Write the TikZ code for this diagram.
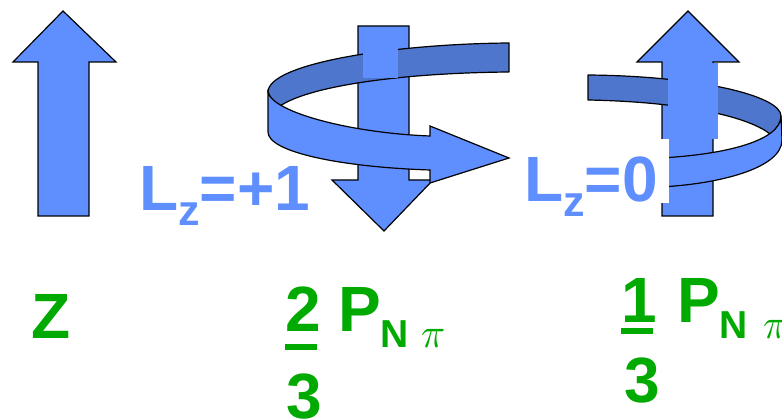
\documentclass[tikz,border=0pt]{standalone}
\usepackage{fontspec}
\usepackage{graphicx}
\setmainfont{Liberation Sans}
\definecolor{lb}{RGB}{95,143,255}
\definecolor{db}{RGB}{77,118,204}
\definecolor{gr}{RGB}{0,170,0}
\tikzset{
  arrowshape/.style={fill=lb,draw=black,line width=1.2pt,line join=miter},
  backband/.style={fill=db,draw=black,line width=1.2pt,line join=round},
  frontband/.style={fill=lb,draw=black,line width=1.2pt,line join=miter},
  patch/.style={fill=lb,draw=none},
  bigtxt/.style={inner sep=0pt,anchor=base west,font=\fontsize{64}{64}\selectfont\bfseries},
  subtxt/.style={inner sep=0pt,anchor=base west,font=\fontsize{39}{39}\selectfont\bfseries},
  pitxt/.style={inner sep=0pt,anchor=base west},
}
\newcommand{\bigpi}{\scalebox{4}[4.2]{$\pi$}}
\begin{document}
\begin{tikzpicture}[x=1pt,y=-1pt]
\useasboundingbox (0,0) rectangle (782,419);
\clip (0,0) rectangle (782,419);

% left up arrow
\draw[arrowshape] (38,216) -- (38,62) -- (13,62) -- (63,11) -- (116,62) -- (89,62) -- (89,216) -- cycle;

% middle down arrow
\draw[arrowshape] (358,26) -- (409,26) -- (409,180) -- (433,180) -- (384,231) -- (332,180) -- (358,180) -- cycle;

% middle ribbon: back band
\draw[backband] (509,43) .. controls (390,44) and (268,64) .. (268,92)
   .. controls (270,98) and (274,102) .. (280,106)
   .. controls (310,86) and (400,73) .. (509,72) -- cycle;
\fill[patch] (363,28) rectangle (398,78);
% middle ribbon: front band with head
\draw[frontband] (268,92) .. controls (272,112) and (350,133) .. (430,136)
   -- (430,126) -- (509,158) -- (430,183) -- (430,170)
   .. controls (340,167) and (268,152) .. (268,132) -- cycle;

% right up arrow
\draw[arrowshape] (662,216) -- (662,62) -- (637,62) -- (688,11) -- (739,62) -- (713,62) -- (713,216) -- cycle;

% right ribbon: back band
\draw[backband] (588,75) .. controls (700,76) and (781,96) .. (781,116)
   .. controls (781,124) and (776,130) .. (770,134)
   .. controls (750,118) and (690,102) .. (588,100) -- cycle;
\fill[patch] (668,63) rectangle (718,139);
% right ribbon: front band
\draw[frontband] (781,116) .. controls (781,142) and (720,155) .. (660,158)
   -- (660,187) .. controls (720,184) and (782,168) .. (782,140) -- cycle;
\fill[white] (518,139) rectangle (669,203);

% labels
\node[bigtxt,text=lb] (lzone) at (139,211) {L\raisebox{-15pt}{\fontsize{43}{43}\selectfont z}=+1};
\node[bigtxt,text=lb] (lzzero) at (524,202) {L\raisebox{-15pt}{\fontsize{43}{43}\selectfont z}=0};

\node[bigtxt,text=gr] (zlab) at (31,339) {Z};

\node[bigtxt,text=gr] (twonum) at (285,332) {2};
\fill[gr] (285,344) rectangle (317,350);
\node[bigtxt,text=gr] (twoden) at (286,419) {3};
\node[bigtxt,text=gr] (pone) at (338,332) {P};
\node[subtxt,text=gr] (none) at (380,348) {N};
\node[pitxt,text=gr] (pione) at (421,348) {\bigpi};

\node[bigtxt,text=gr] (onenum) at (621,323) {1};
\fill[gr] (621,328) rectangle (653,334);
\node[bigtxt,text=gr] (oneden) at (624,403) {3};
\node[bigtxt,text=gr] (ptwo) at (677,323) {P};
\node[subtxt,text=gr] (ntwo) at (719,339) {N};
\node[pitxt,text=gr] (pitwo) at (763,339) {\bigpi};
\end{tikzpicture}
\end{document}
